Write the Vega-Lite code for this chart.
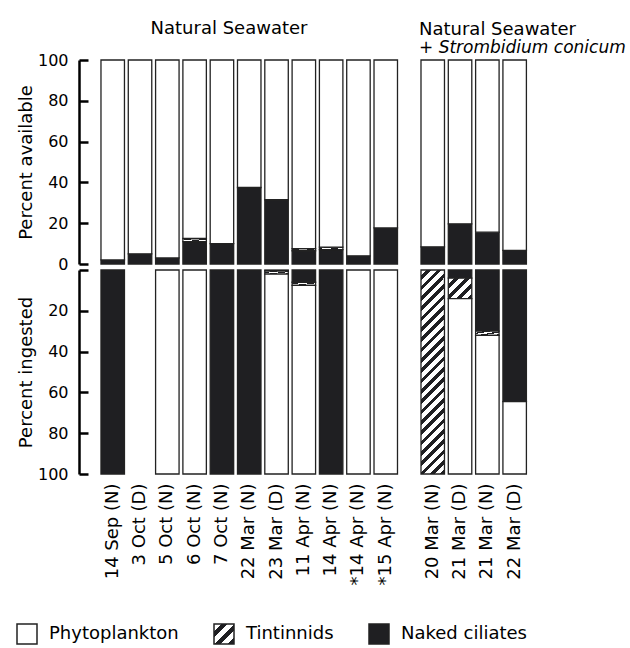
{
  "$schema": "https://vega.github.io/schema/vega-lite/v6.json",
  "padding": {"left": 16, "top": 20, "right": 2, "bottom": 0},
  "config": {
    "font": "DejaVu Sans",
    "view": {"stroke": null},
    "axis": {"labelColor": "black", "titleColor": "black", "labelFontSize": 16, "titleFontSize": 18, "titleFontWeight": "normal", "grid": false},
    "title": {"color": "black", "fontWeight": "normal", "fontSize": 18}
  },
  "datasets": {
    "bars": [
      {"d": "14 Sep (N)", "p": "a", "g": "NS", "cat": "Naked ciliates", "ord": 1, "v": 2},
      {"d": "14 Sep (N)", "p": "a", "g": "NS", "cat": "Phytoplankton", "ord": 3, "v": 98},
      {"d": "3 Oct (D)", "p": "a", "g": "NS", "cat": "Naked ciliates", "ord": 1, "v": 5},
      {"d": "3 Oct (D)", "p": "a", "g": "NS", "cat": "Phytoplankton", "ord": 3, "v": 95},
      {"d": "5 Oct (N)", "p": "a", "g": "NS", "cat": "Naked ciliates", "ord": 1, "v": 3},
      {"d": "5 Oct (N)", "p": "a", "g": "NS", "cat": "Phytoplankton", "ord": 3, "v": 97},
      {"d": "6 Oct (N)", "p": "a", "g": "NS", "cat": "Naked ciliates", "ord": 1, "v": 11},
      {"d": "6 Oct (N)", "p": "a", "g": "NS", "cat": "Tintinnids", "ord": 2, "v": 1.5},
      {"d": "6 Oct (N)", "p": "a", "g": "NS", "cat": "Phytoplankton", "ord": 3, "v": 87.5},
      {"d": "7 Oct (N)", "p": "a", "g": "NS", "cat": "Naked ciliates", "ord": 1, "v": 10},
      {"d": "7 Oct (N)", "p": "a", "g": "NS", "cat": "Phytoplankton", "ord": 3, "v": 90},
      {"d": "22 Mar (N)", "p": "a", "g": "NS", "cat": "Naked ciliates", "ord": 1, "v": 37.5},
      {"d": "22 Mar (N)", "p": "a", "g": "NS", "cat": "Phytoplankton", "ord": 3, "v": 62.5},
      {"d": "23 Mar (D)", "p": "a", "g": "NS", "cat": "Naked ciliates", "ord": 1, "v": 31.5},
      {"d": "23 Mar (D)", "p": "a", "g": "NS", "cat": "Phytoplankton", "ord": 3, "v": 68.5},
      {"d": "11 Apr (N)", "p": "a", "g": "NS", "cat": "Naked ciliates", "ord": 1, "v": 6.5},
      {"d": "11 Apr (N)", "p": "a", "g": "NS", "cat": "Tintinnids", "ord": 2, "v": 1},
      {"d": "11 Apr (N)", "p": "a", "g": "NS", "cat": "Phytoplankton", "ord": 3, "v": 92.5},
      {"d": "14 Apr (N)", "p": "a", "g": "NS", "cat": "Naked ciliates", "ord": 1, "v": 7},
      {"d": "14 Apr (N)", "p": "a", "g": "NS", "cat": "Tintinnids", "ord": 2, "v": 1.3},
      {"d": "14 Apr (N)", "p": "a", "g": "NS", "cat": "Phytoplankton", "ord": 3, "v": 91.7},
      {"d": "*14 Apr (N)", "p": "a", "g": "NS", "cat": "Naked ciliates", "ord": 1, "v": 4},
      {"d": "*14 Apr (N)", "p": "a", "g": "NS", "cat": "Phytoplankton", "ord": 3, "v": 96},
      {"d": "*15 Apr (N)", "p": "a", "g": "NS", "cat": "Naked ciliates", "ord": 1, "v": 17.7},
      {"d": "*15 Apr (N)", "p": "a", "g": "NS", "cat": "Phytoplankton", "ord": 3, "v": 82.3},
      {"d": "20 Mar (N)", "p": "a", "g": "SC", "cat": "Naked ciliates", "ord": 1, "v": 8.4},
      {"d": "20 Mar (N)", "p": "a", "g": "SC", "cat": "Phytoplankton", "ord": 3, "v": 91.6},
      {"d": "21 Mar (D)", "p": "a", "g": "SC", "cat": "Naked ciliates", "ord": 1, "v": 19.7},
      {"d": "21 Mar (D)", "p": "a", "g": "SC", "cat": "Phytoplankton", "ord": 3, "v": 80.3},
      {"d": "21 Mar (N)", "p": "a", "g": "SC", "cat": "Naked ciliates", "ord": 1, "v": 15.6},
      {"d": "21 Mar (N)", "p": "a", "g": "SC", "cat": "Phytoplankton", "ord": 3, "v": 84.4},
      {"d": "22 Mar (D)", "p": "a", "g": "SC", "cat": "Naked ciliates", "ord": 1, "v": 6.7},
      {"d": "22 Mar (D)", "p": "a", "g": "SC", "cat": "Phytoplankton", "ord": 3, "v": 93.3},

      {"d": "14 Sep (N)", "p": "i", "g": "NS", "cat": "Naked ciliates", "ord": 1, "v": 100},
      {"d": "5 Oct (N)", "p": "i", "g": "NS", "cat": "Phytoplankton", "ord": 3, "v": 100},
      {"d": "6 Oct (N)", "p": "i", "g": "NS", "cat": "Phytoplankton", "ord": 3, "v": 100},
      {"d": "7 Oct (N)", "p": "i", "g": "NS", "cat": "Naked ciliates", "ord": 1, "v": 100},
      {"d": "22 Mar (N)", "p": "i", "g": "NS", "cat": "Naked ciliates", "ord": 1, "v": 100},
      {"d": "23 Mar (D)", "p": "i", "g": "NS", "cat": "Naked ciliates", "ord": 1, "v": 0.5},
      {"d": "23 Mar (D)", "p": "i", "g": "NS", "cat": "Tintinnids", "ord": 2, "v": 1.5},
      {"d": "23 Mar (D)", "p": "i", "g": "NS", "cat": "Phytoplankton", "ord": 3, "v": 98},
      {"d": "11 Apr (N)", "p": "i", "g": "NS", "cat": "Naked ciliates", "ord": 1, "v": 6},
      {"d": "11 Apr (N)", "p": "i", "g": "NS", "cat": "Tintinnids", "ord": 2, "v": 1.5},
      {"d": "11 Apr (N)", "p": "i", "g": "NS", "cat": "Phytoplankton", "ord": 3, "v": 92.5},
      {"d": "14 Apr (N)", "p": "i", "g": "NS", "cat": "Naked ciliates", "ord": 1, "v": 100},
      {"d": "*14 Apr (N)", "p": "i", "g": "NS", "cat": "Phytoplankton", "ord": 3, "v": 100},
      {"d": "*15 Apr (N)", "p": "i", "g": "NS", "cat": "Phytoplankton", "ord": 3, "v": 100},
      {"d": "20 Mar (N)", "p": "i", "g": "SC", "cat": "Tintinnids", "ord": 2, "v": 100},
      {"d": "21 Mar (D)", "p": "i", "g": "SC", "cat": "Naked ciliates", "ord": 1, "v": 4},
      {"d": "21 Mar (D)", "p": "i", "g": "SC", "cat": "Tintinnids", "ord": 2, "v": 10},
      {"d": "21 Mar (D)", "p": "i", "g": "SC", "cat": "Phytoplankton", "ord": 3, "v": 86},
      {"d": "21 Mar (N)", "p": "i", "g": "SC", "cat": "Naked ciliates", "ord": 1, "v": 30},
      {"d": "21 Mar (N)", "p": "i", "g": "SC", "cat": "Tintinnids", "ord": 2, "v": 2},
      {"d": "21 Mar (N)", "p": "i", "g": "SC", "cat": "Phytoplankton", "ord": 3, "v": 68},
      {"d": "22 Mar (D)", "p": "i", "g": "SC", "cat": "Naked ciliates", "ord": 1, "v": 64.5},
      {"d": "22 Mar (D)", "p": "i", "g": "SC", "cat": "Phytoplankton", "ord": 3, "v": 35.5}
    ],
    "legend": [
      {"cat": "Phytoplankton"}, {"cat": "Tintinnids"}, {"cat": "Naked ciliates"}
    ]
  },
  "columns": 1,
  "spacing": 38,
  "concat": [
    {
      "columns": 2,
      "spacing": {"row": 6, "column": 20},
      "bounds": "flush",
      "concat": [
        {
          "width": 320, "height": 204,
          "title": {"text": "Natural Seawater", "anchor": "middle", "offset": 14, "dx": -10},
          "data": {"name": "bars"},
          "transform": [{"filter": "datum.p === 'a' && datum.g === 'NS'"}],
          "mark": {"type": "bar", "stroke": "#222", "strokeWidth": 1.3},
          "encoding": {
            "x": {"field": "d", "type": "nominal", "scale": {"domain": ["14 Sep (N)", "3 Oct (D)", "5 Oct (N)", "6 Oct (N)", "7 Oct (N)", "22 Mar (N)", "23 Mar (D)", "11 Apr (N)", "14 Apr (N)", "*14 Apr (N)", "*15 Apr (N)"], "paddingInner": 0.14, "paddingOuter": 0.43, "align": 0.936}, "axis": null},
            "y": {"field": "v", "type": "quantitative", "stack": "zero", "scale": {"domain": [0, 100], "nice": false}, "axis": {"values": [0, 20, 40, 60, 80, 100], "title": "Percent available", "domainColor": "black", "domainWidth": 2.5, "tickColor": "black", "tickWidth": 2.5, "tickSize": -9, "labelPadding": 20, "titlePadding": 2}},
            "order": {"field": "ord", "type": "quantitative"},
            "color": {"field": "cat", "type": "nominal",
              "scale": {"domain": ["Phytoplankton", "Tintinnids", "Naked ciliates"], "range": ["white", "#888888", "#1f1f22"]},
              "legend": null,
              "condition": {"test": "datum.cat === 'Tintinnids'", "value": {"gradient": "linear", "x1": 0, "y1": 0, "x2": 1, "y2": 1, "stops": [
                {"offset": 0, "color": "white"}, {"offset": 0.1833, "color": "white"}, {"offset": 0.1833, "color": "#1f1f22"}, {"offset": 0.3333, "color": "#1f1f22"},
                {"offset": 0.3333, "color": "white"}, {"offset": 0.5167, "color": "white"}, {"offset": 0.5167, "color": "#1f1f22"}, {"offset": 0.6667, "color": "#1f1f22"},
                {"offset": 0.6667, "color": "white"}, {"offset": 0.85, "color": "white"}, {"offset": 0.85, "color": "#1f1f22"}, {"offset": 1, "color": "#1f1f22"}]}}
            }
          }
        },
        {
          "width": 109.4, "height": 204,
          "title": {"text": "Natural Seawater", "subtitle": "+ Strombidium conicum", "subtitleFontSize": 17, "subtitleFontStyle": "italic", "subtitleColor": "black", "subtitlePadding": 1, "anchor": "start", "offset": 3},
          "data": {"name": "bars"},
          "transform": [{"filter": "datum.p === 'a' && datum.g === 'SC'"}],
          "mark": {"type": "bar", "stroke": "#222", "strokeWidth": 1.3},
          "encoding": {
            "x": {"field": "d", "type": "nominal", "scale": {"domain": ["20 Mar (N)", "21 Mar (D)", "21 Mar (N)", "22 Mar (D)"], "paddingInner": 0.14, "paddingOuter": 0.073}, "axis": null},
            "y": {"field": "v", "type": "quantitative", "stack": "zero", "scale": {"domain": [0, 100], "nice": false}, "axis": null},
            "order": {"field": "ord", "type": "quantitative"},
            "color": {"field": "cat", "type": "nominal", "legend": null}
          }
        },
        {
          "width": 320, "height": 204,
          "data": {"name": "bars"},
          "transform": [{"filter": "datum.p === 'i' && datum.g === 'NS'"}],
          "mark": {"type": "bar", "stroke": "#222", "strokeWidth": 1.3},
          "encoding": {
            "x": {"field": "d", "type": "nominal", "scale": {"domain": ["14 Sep (N)", "3 Oct (D)", "5 Oct (N)", "6 Oct (N)", "7 Oct (N)", "22 Mar (N)", "23 Mar (D)", "11 Apr (N)", "14 Apr (N)", "*14 Apr (N)", "*15 Apr (N)"], "paddingInner": 0.14, "paddingOuter": 0.43, "align": 0.936}, "axis": {"title": null, "labelAngle": 270, "domain": false, "ticks": false, "labelPadding": 9, "labelFontSize": 18}},
            "y": {"field": "v", "type": "quantitative", "stack": "zero", "scale": {"domain": [0, 100], "nice": false, "reverse": true}, "axis": {"values": [0, 20, 40, 60, 80, 100], "labelExpr": "datum.value === 0 ? '' : datum.label", "title": "Percent ingested", "domainColor": "black", "domainWidth": 2.5, "tickColor": "black", "tickWidth": 2.5, "tickSize": -9, "labelPadding": 20, "titlePadding": 2}},
            "order": {"field": "ord", "type": "quantitative"},
            "color": {"field": "cat", "type": "nominal", "legend": null,
              "condition": {"test": "datum.cat === 'Tintinnids'", "value": {"gradient": "linear", "x1": 0, "y1": 0, "x2": 1, "y2": 1, "stops": [
                {"offset": 0, "color": "white"}, {"offset": 0.1833, "color": "white"}, {"offset": 0.1833, "color": "#1f1f22"}, {"offset": 0.3333, "color": "#1f1f22"},
                {"offset": 0.3333, "color": "white"}, {"offset": 0.5167, "color": "white"}, {"offset": 0.5167, "color": "#1f1f22"}, {"offset": 0.6667, "color": "#1f1f22"},
                {"offset": 0.6667, "color": "white"}, {"offset": 0.85, "color": "white"}, {"offset": 0.85, "color": "#1f1f22"}, {"offset": 1, "color": "#1f1f22"}]}}
            }
          }
        },
        {
          "width": 109.4, "height": 204,
          "data": {"name": "bars"},
          "transform": [{"filter": "datum.p === 'i' && datum.g === 'SC'"}],
          "mark": {"type": "bar", "stroke": "#222", "strokeWidth": 1.3},
          "encoding": {
            "x": {"field": "d", "type": "nominal", "scale": {"domain": ["20 Mar (N)", "21 Mar (D)", "21 Mar (N)", "22 Mar (D)"], "paddingInner": 0.14, "paddingOuter": 0.073}, "axis": {"title": null, "labelAngle": 270, "domain": false, "ticks": false, "labelPadding": 9, "labelFontSize": 18}},
            "y": {"field": "v", "type": "quantitative", "stack": "zero", "scale": {"domain": [0, 100], "nice": false, "reverse": true}, "axis": null},
            "order": {"field": "ord", "type": "quantitative"},
            "color": {"field": "cat", "type": "nominal", "legend": null,
              "condition": [
                {"test": "datum.cat === 'Tintinnids' && datum.d === '20 Mar (N)'", "value": {"gradient": "linear", "x1": 0, "y1": 0, "x2": 0.1268, "y2": 1.1006, "stops": [
                  {"offset": 0, "color": "white"}, {"offset": 0.025, "color": "white"}, {"offset": 0.025, "color": "#1f1f22"}, {"offset": 0.04545, "color": "#1f1f22"},
                  {"offset": 0.04545, "color": "white"}, {"offset": 0.07045, "color": "white"}, {"offset": 0.07045, "color": "#1f1f22"}, {"offset": 0.09091, "color": "#1f1f22"},
                  {"offset": 0.09091, "color": "white"}, {"offset": 0.11591, "color": "white"}, {"offset": 0.11591, "color": "#1f1f22"}, {"offset": 0.13636, "color": "#1f1f22"},
                  {"offset": 0.13636, "color": "white"}, {"offset": 0.16136, "color": "white"}, {"offset": 0.16136, "color": "#1f1f22"}, {"offset": 0.18182, "color": "#1f1f22"},
                  {"offset": 0.18182, "color": "white"}, {"offset": 0.20682, "color": "white"}, {"offset": 0.20682, "color": "#1f1f22"}, {"offset": 0.22727, "color": "#1f1f22"},
                  {"offset": 0.22727, "color": "white"}, {"offset": 0.25227, "color": "white"}, {"offset": 0.25227, "color": "#1f1f22"}, {"offset": 0.27273, "color": "#1f1f22"},
                  {"offset": 0.27273, "color": "white"}, {"offset": 0.29773, "color": "white"}, {"offset": 0.29773, "color": "#1f1f22"}, {"offset": 0.31818, "color": "#1f1f22"},
                  {"offset": 0.31818, "color": "white"}, {"offset": 0.34318, "color": "white"}, {"offset": 0.34318, "color": "#1f1f22"}, {"offset": 0.36364, "color": "#1f1f22"},
                  {"offset": 0.36364, "color": "white"}, {"offset": 0.38864, "color": "white"}, {"offset": 0.38864, "color": "#1f1f22"}, {"offset": 0.40909, "color": "#1f1f22"},
                  {"offset": 0.40909, "color": "white"}, {"offset": 0.43409, "color": "white"}, {"offset": 0.43409, "color": "#1f1f22"}, {"offset": 0.45455, "color": "#1f1f22"},
                  {"offset": 0.45455, "color": "white"}, {"offset": 0.47955, "color": "white"}, {"offset": 0.47955, "color": "#1f1f22"}, {"offset": 0.5, "color": "#1f1f22"},
                  {"offset": 0.5, "color": "white"}, {"offset": 0.525, "color": "white"}, {"offset": 0.525, "color": "#1f1f22"}, {"offset": 0.54545, "color": "#1f1f22"},
                  {"offset": 0.54545, "color": "white"}, {"offset": 0.57045, "color": "white"}, {"offset": 0.57045, "color": "#1f1f22"}, {"offset": 0.59091, "color": "#1f1f22"},
                  {"offset": 0.59091, "color": "white"}, {"offset": 0.61591, "color": "white"}, {"offset": 0.61591, "color": "#1f1f22"}, {"offset": 0.63636, "color": "#1f1f22"},
                  {"offset": 0.63636, "color": "white"}, {"offset": 0.66136, "color": "white"}, {"offset": 0.66136, "color": "#1f1f22"}, {"offset": 0.68182, "color": "#1f1f22"},
                  {"offset": 0.68182, "color": "white"}, {"offset": 0.70682, "color": "white"}, {"offset": 0.70682, "color": "#1f1f22"}, {"offset": 0.72727, "color": "#1f1f22"},
                  {"offset": 0.72727, "color": "white"}, {"offset": 0.75227, "color": "white"}, {"offset": 0.75227, "color": "#1f1f22"}, {"offset": 0.77273, "color": "#1f1f22"},
                  {"offset": 0.77273, "color": "white"}, {"offset": 0.79773, "color": "white"}, {"offset": 0.79773, "color": "#1f1f22"}, {"offset": 0.81818, "color": "#1f1f22"},
                  {"offset": 0.81818, "color": "white"}, {"offset": 0.84318, "color": "white"}, {"offset": 0.84318, "color": "#1f1f22"}, {"offset": 0.86364, "color": "#1f1f22"},
                  {"offset": 0.86364, "color": "white"}, {"offset": 0.88864, "color": "white"}, {"offset": 0.88864, "color": "#1f1f22"}, {"offset": 0.90909, "color": "#1f1f22"},
                  {"offset": 0.90909, "color": "white"}, {"offset": 0.93409, "color": "white"}, {"offset": 0.93409, "color": "#1f1f22"}, {"offset": 0.95455, "color": "#1f1f22"},
                  {"offset": 0.95455, "color": "white"}, {"offset": 0.97955, "color": "white"}, {"offset": 0.97955, "color": "#1f1f22"}, {"offset": 1, "color": "#1f1f22"}]}},
                {"test": "datum.cat === 'Tintinnids' && datum.d === '21 Mar (D)'", "value": {"gradient": "linear", "x1": 0, "y1": 0, "x2": 1.0654, "y2": 0.9248, "stops": [
                  {"offset": 0, "color": "white"}, {"offset": 0.1375, "color": "white"}, {"offset": 0.1375, "color": "#1f1f22"}, {"offset": 0.25, "color": "#1f1f22"},
                  {"offset": 0.25, "color": "white"}, {"offset": 0.3875, "color": "white"}, {"offset": 0.3875, "color": "#1f1f22"}, {"offset": 0.5, "color": "#1f1f22"},
                  {"offset": 0.5, "color": "white"}, {"offset": 0.6375, "color": "white"}, {"offset": 0.6375, "color": "#1f1f22"}, {"offset": 0.75, "color": "#1f1f22"},
                  {"offset": 0.75, "color": "white"}, {"offset": 0.8875, "color": "white"}, {"offset": 0.8875, "color": "#1f1f22"}, {"offset": 1, "color": "#1f1f22"}]}},
                {"test": "datum.cat === 'Tintinnids'", "value": {"gradient": "linear", "x1": 0, "y1": 0, "x2": 1, "y2": 1, "stops": [
                  {"offset": 0, "color": "white"}, {"offset": 0.1833, "color": "white"}, {"offset": 0.1833, "color": "#1f1f22"}, {"offset": 0.3333, "color": "#1f1f22"},
                  {"offset": 0.3333, "color": "white"}, {"offset": 0.5167, "color": "white"}, {"offset": 0.5167, "color": "#1f1f22"}, {"offset": 0.6667, "color": "#1f1f22"},
                  {"offset": 0.6667, "color": "white"}, {"offset": 0.85, "color": "white"}, {"offset": 0.85, "color": "#1f1f22"}, {"offset": 1, "color": "#1f1f22"}]}}
              ]
            }
          }
        }
      ]
    },
    {
      "spacing": 34,
      "hconcat": [
        {
          "width": 20, "height": 20,
          "data": {"name": "legend"},
          "transform": [{"filter": "datum.cat === 'Phytoplankton'"}],
          "layer": [
            {"mark": {"type": "bar", "fill": "white", "stroke": "#222", "strokeWidth": 1.5, "xOffset": -62}, "encoding": {"x": {"field": "cat", "type": "nominal", "axis": null, "scale": {"paddingInner": 0, "paddingOuter": 0}}}},
            {"mark": {"type": "text", "align": "left", "baseline": "middle", "dx": 22, "xOffset": -62, "fontSize": 18, "color": "black"}, "encoding": {"x": {"field": "cat", "type": "nominal", "axis": null}, "text": {"field": "cat"}}}
          ]
        },
        {
          "width": 20, "height": 20,
          "data": {"name": "legend"},
          "transform": [{"filter": "datum.cat === 'Tintinnids'"}],
          "layer": [
            {"mark": {"type": "bar", "stroke": "#222", "strokeWidth": 1.5, "xOffset": -62, "fill": {"gradient": "linear", "x1": 0, "y1": 0, "x2": 1, "y2": 1, "stops": [
                {"offset": 0, "color": "white"}, {"offset": 0.1833, "color": "white"}, {"offset": 0.1833, "color": "#1f1f22"}, {"offset": 0.3333, "color": "#1f1f22"},
                {"offset": 0.3333, "color": "white"}, {"offset": 0.5167, "color": "white"}, {"offset": 0.5167, "color": "#1f1f22"}, {"offset": 0.6667, "color": "#1f1f22"},
                {"offset": 0.6667, "color": "white"}, {"offset": 0.85, "color": "white"}, {"offset": 0.85, "color": "#1f1f22"}, {"offset": 1, "color": "#1f1f22"}]}},
             "encoding": {"x": {"field": "cat", "type": "nominal", "axis": null, "scale": {"paddingInner": 0, "paddingOuter": 0}}}},
            {"mark": {"type": "text", "align": "left", "baseline": "middle", "dx": 22, "xOffset": -62, "fontSize": 18, "color": "black"}, "encoding": {"x": {"field": "cat", "type": "nominal", "axis": null}, "text": {"field": "cat"}}}
          ]
        },
        {
          "width": 20, "height": 20,
          "data": {"name": "legend"},
          "transform": [{"filter": "datum.cat === 'Naked ciliates'"}],
          "layer": [
            {"mark": {"type": "bar", "fill": "#1f1f22", "stroke": "#222", "strokeWidth": 1.5, "xOffset": -62}, "encoding": {"x": {"field": "cat", "type": "nominal", "axis": null, "scale": {"paddingInner": 0, "paddingOuter": 0}}}},
            {"mark": {"type": "text", "align": "left", "baseline": "middle", "dx": 22, "xOffset": -62, "fontSize": 18, "color": "black"}, "encoding": {"x": {"field": "cat", "type": "nominal", "axis": null}, "text": {"field": "cat"}}}
          ]
        }
      ]
    }
  ]
}
